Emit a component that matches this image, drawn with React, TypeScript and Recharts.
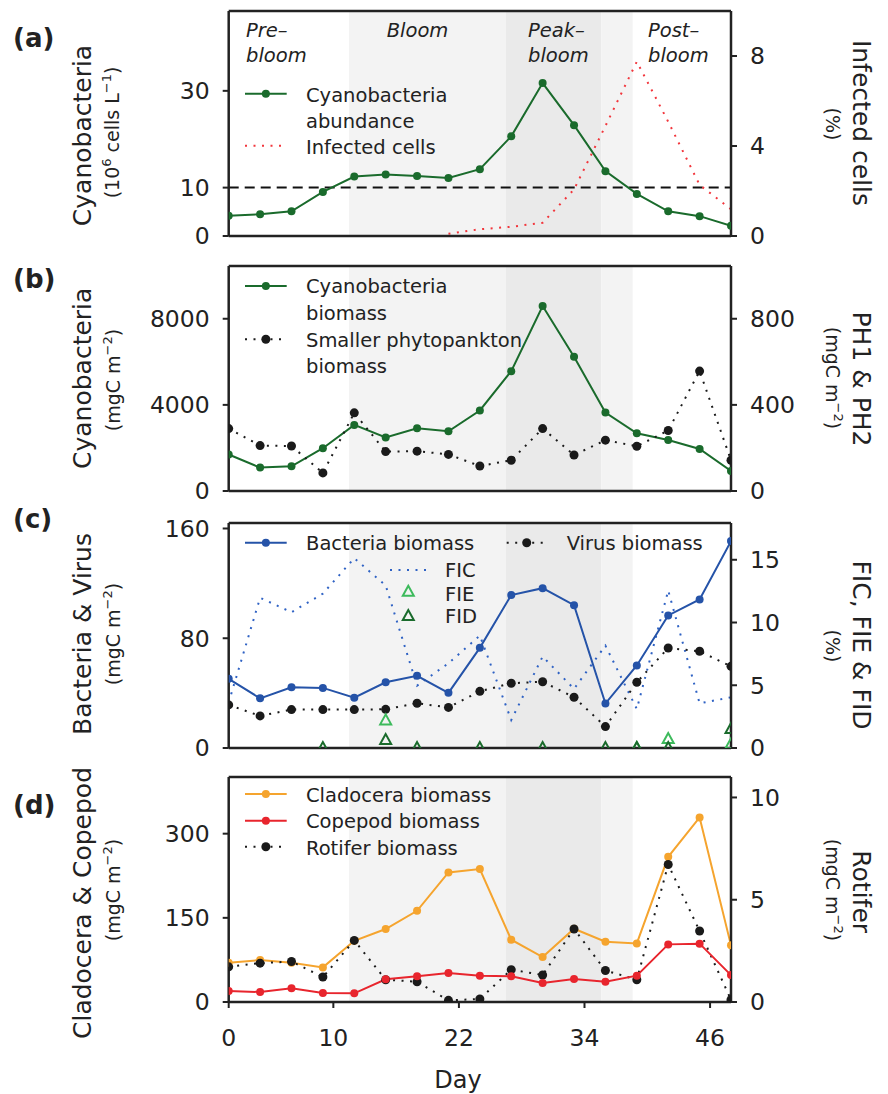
import React from 'react';
import {
  LineChart,
  ComposedChart,
  Line,
  Scatter,
  XAxis,
  YAxis,
  ReferenceArea,
  ReferenceLine,
} from 'recharts';

// ---------- data ----------
const days = [0, 3, 6, 9, 12, 15, 18, 21, 24, 27, 30, 33, 36, 39, 42, 45, 48];
const dayTicks = [0, 10, 22, 34, 46];
const dayDomain = [0, 48];

// bloom phases (days)
const bloomStart = 11.5;
const peakStart = 26.5;
const peakEnd = 35.6;
const postStart = 38.6;

// (a)
const cyanoAbundance = [4.2, 4.5, 5.1, 9.1, 12.3, 12.7, 12.4, 12.0, 13.8, 20.6, 31.6, 22.9, 13.4, 8.7, 5.1, 4.1, 2.1];
const infectedCells = [null, null, null, null, null, null, null, 0.1, 0.3, 0.41, 0.59, 2.07, 4.89, 7.75, 5.08, 2.27, 1.19];
const abundanceThreshold = 10;
const aLeftDomain = [0, 46.5];
const aLeftTicks = [0, 10, 30];
const aRightDomain = [0, 10];
const aRightTicks = [0, 4, 8];

// (b)
const cyanoBiomass = [1693, 1088, 1149, 1986, 3069, 2483, 2916, 2776, 3739, 5566, 8589, 6231, 3646, 2683, 2372, 1953, 930];
const smallPhytoBiomass = [290, 211, 209, 84, 363, 183, 185, 170, 116, 143, 290, 167, 236, 208, 281, 557, 143];
const bLeftDomain = [0, 10450];
const bLeftTicks = [0, 4000, 8000];
const bRightDomain = [0, 1045];
const bRightTicks = [0, 400, 800];

// (c)
const bacteriaBiomass = [50.4, 36.2, 44.3, 43.8, 36.7, 47.9, 52.6, 40.2, 73, 111.5, 116.5, 104.1, 32.4, 60.2, 96.6, 108.3, 150.8];
const virusBiomass = [31.4, 23.4, 28, 28, 28, 28.2, 32.6, 29.6, 41.3, 47.2, 48.3, 37, 15.6, 47.9, 72.9, 70.5, 59.5];
const ficPct = [3.64, 11.97, 10.82, 12.3, 15.13, 12.95, 4.97, 6.75, 8.96, 2.23, 7.29, 4.71, 8.16, 3.11, 12.55, 3.56, 4.04];
const fiePct = [null, null, null, null, null, 2.2, null, null, null, null, null, null, null, 0, 0.72, null, 0.3];
const fidPct = [null, null, null, 0, null, 0.64, 0, null, 0, null, 0, null, 0, 0, 0, null, 1.52];
const cLeftDomain = [0, 164];
const cLeftTicks = [0, 80, 160];
const cRightDomain = [0, 17.93];
const cRightTicks = [0, 5, 10, 15];

// (d)
const cladoceraBiomass = [70, 74.7, 70, 61.7, 109, 130, 162.6, 231, 237, 111, 80, 130.6, 107.5, 104.4, 258.7, 329, 101];
const copepodBiomass = [19.6, 17.8, 24.4, 16, 15.5, 40.4, 45.7, 51.6, 47, 45.7, 33.8, 41, 36.3, 47, 102.7, 104, 48];
const rotiferBiomass = [1.72, 1.9, 1.98, 1.22, 3.01, 1.09, 0.99, 0.08, 0.15, 1.58, 1.32, 3.57, 1.54, 1.09, 6.72, 3.47, 0.11];
const dLeftDomain = [0, 401];
const dLeftTicks = [0, 150, 300];
const dRightDomain = [0, 11];
const dRightTicks = [0, 5, 10];

// ---------- styles ----------
const FONT = '"DejaVu Sans", "Liberation Sans", sans-serif';
const INK = '#222222';
const GREEN = '#1a6b2c';
const LIGHT_GREEN = '#3dba5c';
const RED_DOT = '#f2363c';
const BLUE = '#2553a8';
const BLUE_DOT = '#2f62c4';
const BLACK = '#1a1a1a';
const ORANGE = '#f5a42e';
const RED = '#e8252d';
const SHADE_LIGHT = '#f3f3f3';
const SHADE_DARK = '#eaeaea';
const DOTS = '2 6.5';

const W = 888;
const AXIS_W = 80;
const PLOT_L = 228.7;
const PLOT_R = 731;
const PLOT_H = 225;
const MARGIN = { top: 10, right: W - PLOT_R - AXIS_W, left: PLOT_L - AXIS_W, bottom: 0 };
const TOPS = [10.7, 266, 522.6, 777.4];

const tickStyle = { fontSize: 23.5, fontFamily: FONT, fill: INK };
const axisLineStyle = { stroke: INK, strokeWidth: 2.5 };
const tickLineStyle = { stroke: INK, strokeWidth: 2 };

const dataA = days.map((d, i) => ({ day: d, cyano: cyanoAbundance[i], infected: infectedCells[i] }));
const dataB = days.map((d, i) => ({ day: d, cyano: cyanoBiomass[i], small: smallPhytoBiomass[i] }));
const dataC = days.map((d, i) => ({ day: d, bact: bacteriaBiomass[i], virus: virusBiomass[i], fic: ficPct[i] }));
const fieData = days.map((d, i) => ({ day: d, v: fiePct[i] })).filter((p) => p.v !== null);
const fidData = days.map((d, i) => ({ day: d, v: fidPct[i] })).filter((p) => p.v !== null);
const dataD = days.map((d, i) => ({ day: d, clad: cladoceraBiomass[i], cope: copepodBiomass[i], rot: rotiferBiomass[i] }));

const triPoints = (cx: number, cy: number) => `${cx},${cy - 6} ${cx - 5.5},${cy + 4} ${cx + 5.5},${cy + 4}`;
const makeTri = (color: string) => (props: any) => {
  const { cx, cy } = props;
  if (cx == null || cy == null) return <g />;
  return <polygon points={triPoints(cx, cy)} fill="none" stroke={color} strokeWidth={2} />;
};

function frame(
  leftDomain: number[],
  leftTicks: number[],
  rightDomain: number[],
  rightTicks: number[],
  showX: boolean,
) {
  return [
    <XAxis
      key="x"
      dataKey="day"
      type="number"
      domain={dayDomain}
      ticks={dayTicks}
      interval={0}
      height={showX ? 60 : 30}
      tickSize={6}
      tickMargin={21}
      axisLine={axisLineStyle}
      tickLine={tickLineStyle}
      tick={showX ? tickStyle : false}
      allowDataOverflow
    />,
    <YAxis
      key="yl"
      yAxisId="L"
      orientation="left"
      type="number"
      width={AXIS_W}
      domain={leftDomain}
      ticks={leftTicks}
      interval={0}
      tickSize={6}
      tickMargin={13}
      axisLine={axisLineStyle}
      tickLine={tickLineStyle}
      tick={tickStyle}
      allowDataOverflow
    />,
    <YAxis
      key="yr"
      yAxisId="R"
      orientation="right"
      type="number"
      width={AXIS_W}
      domain={rightDomain}
      ticks={rightTicks}
      interval={0}
      tickSize={6}
      tickMargin={13}
      axisLine={axisLineStyle}
      tickLine={tickLineStyle}
      tick={tickStyle}
      allowDataOverflow
    />,
    <ReferenceArea key="s1" yAxisId="L" x1={bloomStart} x2={peakStart} fill={SHADE_LIGHT} fillOpacity={1} stroke="none" />,
    <ReferenceArea key="s2" yAxisId="L" x1={peakStart} x2={peakEnd} fill={SHADE_DARK} fillOpacity={1} stroke="none" />,
    <ReferenceArea key="s3" yAxisId="L" x1={peakEnd} x2={postStart} fill={SHADE_LIGHT} fillOpacity={1} stroke="none" />,
    <ReferenceLine key="top" yAxisId="L" y={leftDomain[1]} stroke={INK} strokeWidth={2.5} ifOverflow="visible" />,
  ];
}

const dotStyle = (color: string, r = 4) => ({ r, fill: color, stroke: color, strokeWidth: 0 });

// ---------- overlay text ----------
const T = (props: any) => <text fontFamily={FONT} fill={INK} {...props} />;

function Title({ x, y, rot, size, children }: any) {
  return (
    <T transform={`translate(${x},${y}) rotate(${rot})`} textAnchor="middle" fontSize={size}>
      {children}
    </T>
  );
}

const unitsMgC = (
  <>
    (mgC m<tspan dy={-8} fontSize={13}>−2</tspan>
    <tspan dy={8}>)</tspan>
  </>
);

function LegLine({ x1, x2, y, color, dash, dot, r, dotX }: any) {
  return (
    <g>
      <line x1={x1} x2={x2} y1={y} y2={y} stroke={color} strokeWidth={2} strokeDasharray={dash} />
      {dot ? <circle cx={dotX ?? (x1 + x2) / 2} cy={y} r={r ?? 4} fill={color} /> : null}
    </g>
  );
}

function Overlay() {
  const leg = { fontSize: 19.5 };
  const ph = { fontSize: 19.5, fontStyle: 'italic' };
  return (
    <svg width={W} height={1094} style={{ position: 'absolute', left: 0, top: 0, pointerEvents: 'none' }}>
      {/* panel letters */}
      <T x={13} y={47} fontSize={26} fontWeight="bold">(a)</T>
      <T x={13} y={288.4} fontSize={26} fontWeight="bold">(b)</T>
      <T x={13} y={528} fontSize={26} fontWeight="bold">(c)</T>
      <T x={13} y={814} fontSize={26} fontWeight="bold">(d)</T>

      {/* phase labels */}
      <T x={246} y={37} {...ph}>Pre–</T>
      <T x={246} y={61.7} {...ph}>bloom</T>
      <T x={386.7} y={37} {...ph}>Bloom</T>
      <T x={528} y={37} {...ph}>Peak–</T>
      <T x={528} y={61.7} {...ph}>bloom</T>
      <T x={648} y={37} {...ph}>Post–</T>
      <T x={648} y={61.7} {...ph}>bloom</T>

      {/* axis titles (a) */}
      <Title x={90.7} y={135.5} rot={-90} size={25}>Cyanobacteria</Title>
      <Title x={119.3} y={132.5} rot={-90} size={19}>
        (10<tspan dy={-8} fontSize={13}>6</tspan>
        <tspan dy={8}> cells L</tspan>
        <tspan dy={-8} fontSize={13}>−1</tspan>
        <tspan dy={8}>)</tspan>
      </Title>
      <Title x={853.3} y={123} rot={90} size={25}>Infected cells</Title>
      <Title x={825.5} y={124} rot={90} size={19}>(%)</Title>

      {/* (b) */}
      <Title x={90.7} y={378.3} rot={-90} size={25}>Cyanobacteria</Title>
      <Title x={120} y={380} rot={-90} size={19}>{unitsMgC}</Title>
      <Title x={853.3} y={379} rot={90} size={25}>PH1 &amp; PH2</Title>
      <Title x={826} y={378} rot={90} size={19}>{unitsMgC}</Title>

      {/* (c) */}
      <Title x={90.7} y={634} rot={-90} size={25}>Bacteria &amp; Virus</Title>
      <Title x={120} y={634} rot={-90} size={19}>{unitsMgC}</Title>
      <Title x={853.3} y={645} rot={90} size={25}>FIC, FIE &amp; FID</Title>
      <Title x={825.5} y={646} rot={90} size={19}>(%)</Title>

      {/* (d) */}
      <Title x={90.7} y={903} rot={-90} size={25}>Cladocera &amp; Copepod</Title>
      <Title x={120} y={890} rot={-90} size={19}>{unitsMgC}</Title>
      <Title x={853.3} y={891.7} rot={90} size={25}>Rotifer</Title>
      <Title x={826} y={890} rot={90} size={19}>{unitsMgC}</Title>

      {/* x title */}
      <T x={458} y={1088.3} fontSize={24} textAnchor="middle">Day</T>

      {/* legend (a) */}
      <LegLine x1={245} x2={286.7} y={93.7} color={GREEN} dot />
      <T x={306} y={101.5} {...leg}>Cyanobacteria</T>
      <T x={306} y={128.3} {...leg}>abundance</T>
      <LegLine x1={245} x2={282} y={145.7} color={RED_DOT} dash={DOTS} />
      <T x={306} y={154} {...leg}>Infected cells</T>

      {/* legend (b) */}
      <LegLine x1={245} x2={286.7} y={286} color={GREEN} dot />
      <T x={306} y={293.3} {...leg}>Cyanobacteria</T>
      <T x={306} y={320} {...leg}>biomass</T>
      <LegLine x1={245} x2={286.7} y={339.3} color={BLACK} dash={DOTS} dot r={4.5} />
      <T x={306} y={346.7} {...leg}>Smaller phytopankton</T>
      <T x={306} y={373.3} {...leg}>biomass</T>

      {/* legend (c) */}
      <LegLine x1={245} x2={286.7} y={542.7} color={BLUE} dot />
      <T x={306} y={550} {...leg}>Bacteria biomass</T>
      <LegLine x1={506.7} x2={543.3} y={542.7} color={BLACK} dash={DOTS} dot r={4.5} dotX={526.7} />
      <T x={566.7} y={550} {...leg}>Virus biomass</T>
      <LegLine x1={390} x2={427} y={570} color={BLUE_DOT} dash={DOTS} />
      <T x={445} y={577.3} {...leg}>FIC</T>
      <polygon points={triPoints(408.3, 591.7)} fill="none" stroke={LIGHT_GREEN} strokeWidth={2} />
      <T x={445} y={601} {...leg}>FIE</T>
      <polygon points={triPoints(408.3, 616)} fill="none" stroke={GREEN} strokeWidth={2} />
      <T x={445} y={623.3} {...leg}>FID</T>

      {/* legend (d) */}
      <LegLine x1={245} x2={286.7} y={794} color={ORANGE} dot />
      <T x={306} y={801.7} {...leg}>Cladocera biomass</T>
      <LegLine x1={245} x2={286.7} y={820.7} color={RED} dot />
      <T x={306} y={828.3} {...leg}>Copepod biomass</T>
      <LegLine x1={245} x2={286.7} y={846.7} color={BLACK} dash={DOTS} dot r={4.5} />
      <T x={306} y={855} {...leg}>Rotifer biomass</T>
    </svg>
  );
}

export default function App() {
  const h = 10 + PLOT_H + 30;
  const hd = 10 + PLOT_H + 60;
  return (
    <div style={{ position: 'absolute', left: 0, top: 0, width: W, height: 1094, background: '#fff', overflow: 'hidden' }}>
      {/* (a) */}
      <div style={{ position: 'absolute', left: 0, top: TOPS[0] - 10 }}>
        <LineChart width={W} height={h} data={dataA} margin={MARGIN}>
          {frame(aLeftDomain, aLeftTicks, aRightDomain, aRightTicks, false)}
          <ReferenceLine yAxisId="L" y={abundanceThreshold} stroke="#111" strokeWidth={2} strokeDasharray="10 6" />
          <Line yAxisId="R" dataKey="infected" type="linear" stroke={RED_DOT} strokeWidth={2} strokeDasharray={DOTS} dot={false} activeDot={false} isAnimationActive={false} connectNulls={false} />
          <Line yAxisId="L" dataKey="cyano" type="linear" stroke={GREEN} strokeWidth={2} dot={dotStyle(GREEN)} activeDot={false} isAnimationActive={false} />
        </LineChart>
      </div>

      {/* (b) */}
      <div style={{ position: 'absolute', left: 0, top: TOPS[1] - 10 }}>
        <LineChart width={W} height={h} data={dataB} margin={MARGIN}>
          {frame(bLeftDomain, bLeftTicks, bRightDomain, bRightTicks, false)}
          <Line yAxisId="L" dataKey="cyano" type="linear" stroke={GREEN} strokeWidth={2} dot={dotStyle(GREEN)} activeDot={false} isAnimationActive={false} />
          <Line yAxisId="R" dataKey="small" type="linear" stroke={BLACK} strokeWidth={2} strokeDasharray={DOTS} dot={dotStyle(BLACK, 4.5)} activeDot={false} isAnimationActive={false} />
        </LineChart>
      </div>

      {/* (c) */}
      <div style={{ position: 'absolute', left: 0, top: TOPS[2] - 10 }}>
        <ComposedChart width={W} height={h} data={dataC} margin={MARGIN}>
          {frame(cLeftDomain, cLeftTicks, cRightDomain, cRightTicks, false)}
          <Line yAxisId="R" dataKey="fic" type="linear" stroke={BLUE_DOT} strokeWidth={2} strokeDasharray={DOTS} dot={false} activeDot={false} isAnimationActive={false} />
          <Line yAxisId="L" dataKey="virus" type="linear" stroke={BLACK} strokeWidth={2} strokeDasharray={DOTS} dot={dotStyle(BLACK, 4.5)} activeDot={false} isAnimationActive={false} />
          <Line yAxisId="L" dataKey="bact" type="linear" stroke={BLUE} strokeWidth={2} dot={dotStyle(BLUE)} activeDot={false} isAnimationActive={false} />
          <Scatter yAxisId="R" data={fieData} dataKey="v" shape={makeTri(LIGHT_GREEN)} isAnimationActive={false} />
          <Scatter yAxisId="R" data={fidData} dataKey="v" shape={makeTri(GREEN)} isAnimationActive={false} />
        </ComposedChart>
      </div>

      {/* (d) */}
      <div style={{ position: 'absolute', left: 0, top: TOPS[3] - 10 }}>
        <LineChart width={W} height={hd} data={dataD} margin={MARGIN}>
          {frame(dLeftDomain, dLeftTicks, dRightDomain, dRightTicks, true)}
          <Line yAxisId="L" dataKey="clad" type="linear" stroke={ORANGE} strokeWidth={2} dot={dotStyle(ORANGE)} activeDot={false} isAnimationActive={false} />
          <Line yAxisId="R" dataKey="rot" type="linear" stroke={BLACK} strokeWidth={2} strokeDasharray={DOTS} dot={dotStyle(BLACK, 4.5)} activeDot={false} isAnimationActive={false} />
          <Line yAxisId="L" dataKey="cope" type="linear" stroke={RED} strokeWidth={2} dot={dotStyle(RED)} activeDot={false} isAnimationActive={false} />
        </LineChart>
      </div>

      <Overlay />
    </div>
  );
}
